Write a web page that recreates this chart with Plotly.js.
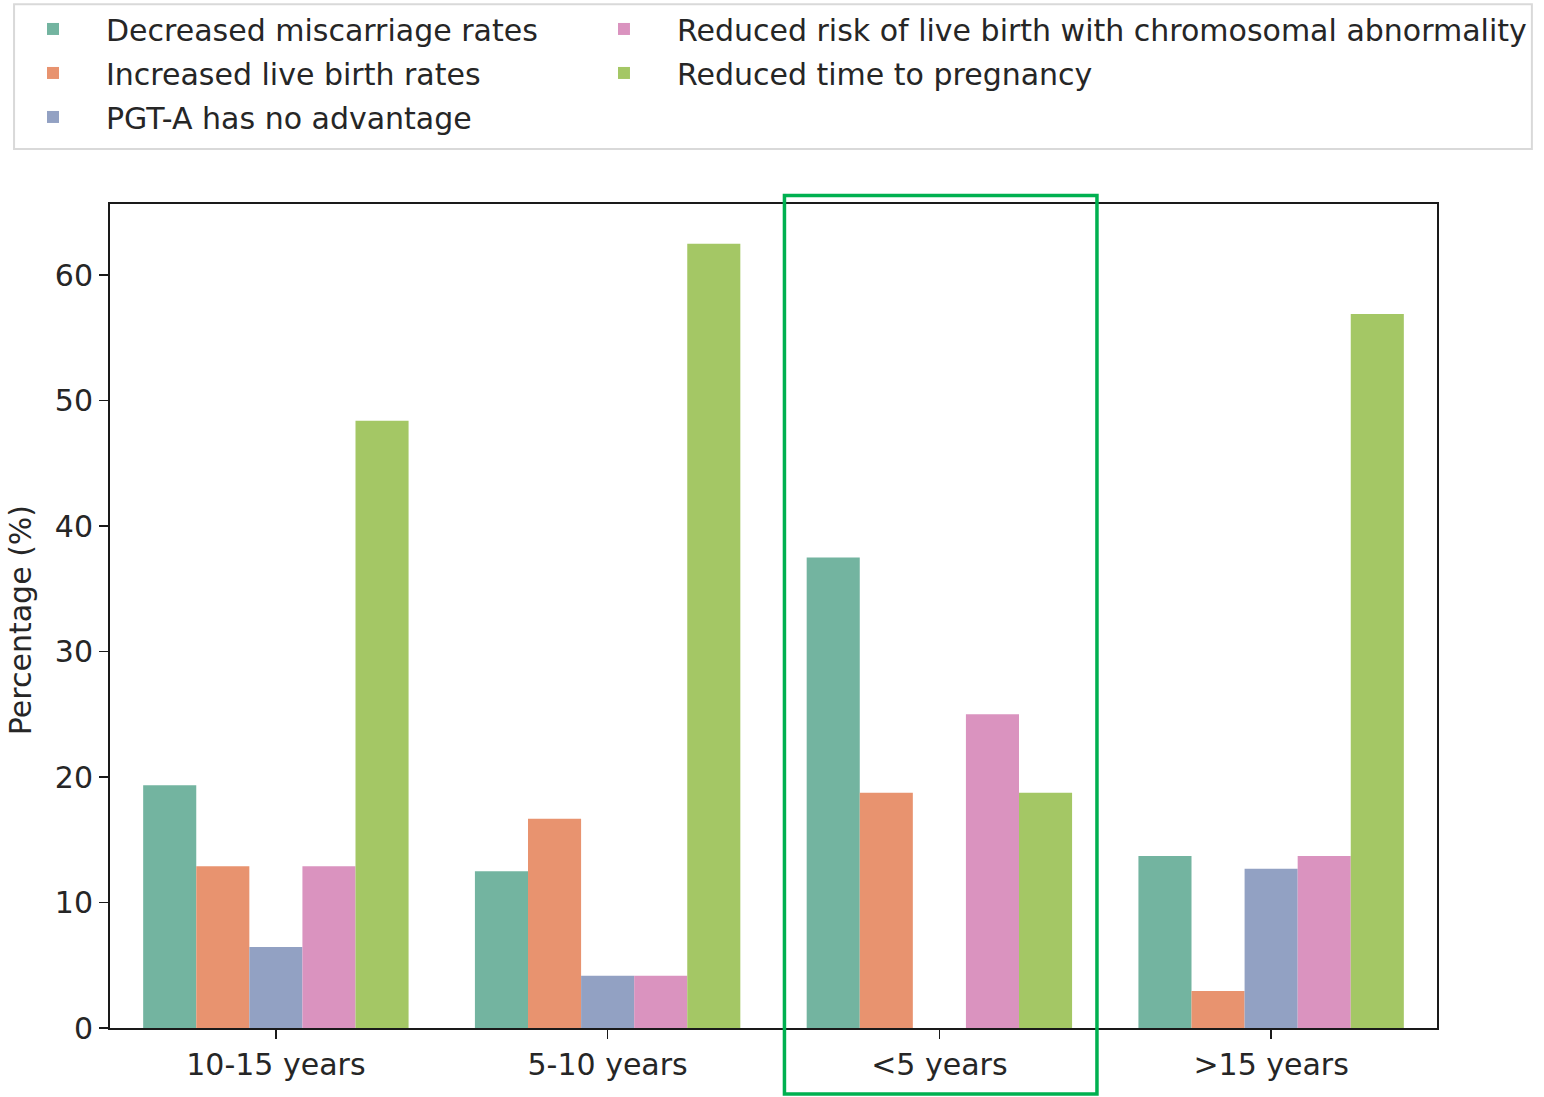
<!DOCTYPE html>
<html>
<head>
<meta charset="utf-8">
<script src="https://cdn.plot.ly/plotly-3.0.1.min.js"></script>
<style>html,body{margin:0;padding:0;background:#fff;}#chart{width:1544px;height:1097px;}</style>
</head>
<body>
<div id="chart"></div>
<script>
const categories = ["10-15 years", "5-10 years", "<5 years", ">15 years"];
const seriesNames = [
  "Decreased miscarriage rates",
  "Increased live birth rates",
  "PGT-A has no advantage",
  "Reduced risk of live birth with chromosomal abnormality",
  "Reduced time to pregnancy"
];
const decreasedMiscarriage = [19.35, 12.5, 37.5, 13.7];
const increasedLiveBirth = [12.9, 16.67, 18.75, 2.95];
const noAdvantage = [6.45, 4.17, 0, 12.7];
const reducedChromosomal = [12.9, 4.17, 25.0, 13.7];
const reducedTime = [48.39, 62.5, 18.75, 56.9];
const seriesValues = [decreasedMiscarriage, increasedLiveBirth, noAdvantage, reducedChromosomal, reducedTime];
const seriesColors = ["#73b4a0", "#e8936f", "#92a1c3", "#da93bf", "#a4c765"];
const legendColumn = ["legend", "legend", "legend", "legend2", "legend2"];
const yTicks = [0, 10, 20, 30, 40, 50, 60];
const yAxisTitle = "Percentage (%)";

const FONT = "DejaVu Sans, Liberation Sans, sans-serif";
const TXT = "#262626";
const FS = 30;

const traces = seriesNames.map((name, i) => ({
  type: "bar",
  name: name,
  x: categories,
  y: seriesValues[i],
  marker: {color: seriesColors[i], line: {width: 0}},
  legend: legendColumn[i],
  legendgroup: "g" + i,
  hoverinfo: "x+y+name"
}));

const legendCommon = {
  orientation: "v",
  xref: "container",
  yref: "container",
  yanchor: "top",
  xanchor: "left",
  itemwidth: 96,
  bgcolor: "rgba(0,0,0,0)",
  borderwidth: 0,
  font: {family: FONT, size: FS, color: TXT},
  traceorder: "grouped",
  tracegroupgap: 2
};

const layout = {
  width: 1544,
  height: 1097,
  margin: {l: 110, r: 107, t: 204, b: 69, pad: 0, autoexpand: false},
  paper_bgcolor: "#ffffff",
  plot_bgcolor: "#ffffff",
  font: {family: FONT, size: FS, color: TXT},
  barmode: "group",
  bargap: 0.2,
  bargroupgap: 0,
  showlegend: true,
  legend: Object.assign({}, legendCommon, {x: 0.0, y: 0.9973}),
  legend2: Object.assign({}, legendCommon, {x: 0.3698, y: 0.9973}),
  xaxis: {
    type: "category",
    categoryarray: categories,
    range: [-0.5, 3.5],
    automargin: false,
    showgrid: false,
    zeroline: false,
    showline: true, linecolor: "#1a1a1a", linewidth: 2, mirror: true,
    ticks: "outside", ticklen: 9, tickwidth: 1.6, tickcolor: "#1a1a1a",
    tickfont: {family: FONT, size: FS, color: TXT},
    fixedrange: true
  },
  yaxis: {
    range: [0, 65.67],
    automargin: false,
    tickvals: yTicks,
    ticktext: yTicks.map(String),
    showgrid: false,
    zeroline: false,
    showline: true, linecolor: "#1a1a1a", linewidth: 2, mirror: true,
    ticks: "outside", ticklen: 9, tickwidth: 1.6, tickcolor: "#1a1a1a",
    tickfont: {family: FONT, size: FS, color: TXT},
    fixedrange: true
  },
  annotations: [
    {
      text: yAxisTitle,
      xref: "paper", yref: "paper",
      x: -0.0678, y: 0.495,
      xanchor: "center", yanchor: "middle",
      textangle: -90,
      showarrow: false,
      font: {family: FONT, size: FS, color: TXT}
    }
  ],
  shapes: [
    {
      type: "rect", xref: "paper", yref: "paper",
      x0: -0.0723, x1: 1.0715, y0: 1.0667, y1: 1.2425,
      line: {color: "#d9d9d9", width: 2},
      fillcolor: "rgba(0,0,0,0)",
      layer: "below"
    },
    {
      type: "rect", xref: "x", yref: "paper",
      x0: 1.533, x1: 2.475, y0: -0.0801, y1: 1.0103,
      line: {color: "#00b050", width: 3.5},
      fillcolor: "rgba(0,0,0,0)",
      layer: "above"
    }
  ]
};

Plotly.newPlot("chart", traces, layout, {displayModeBar: false, staticPlot: true});
</script>
</body>
</html>
